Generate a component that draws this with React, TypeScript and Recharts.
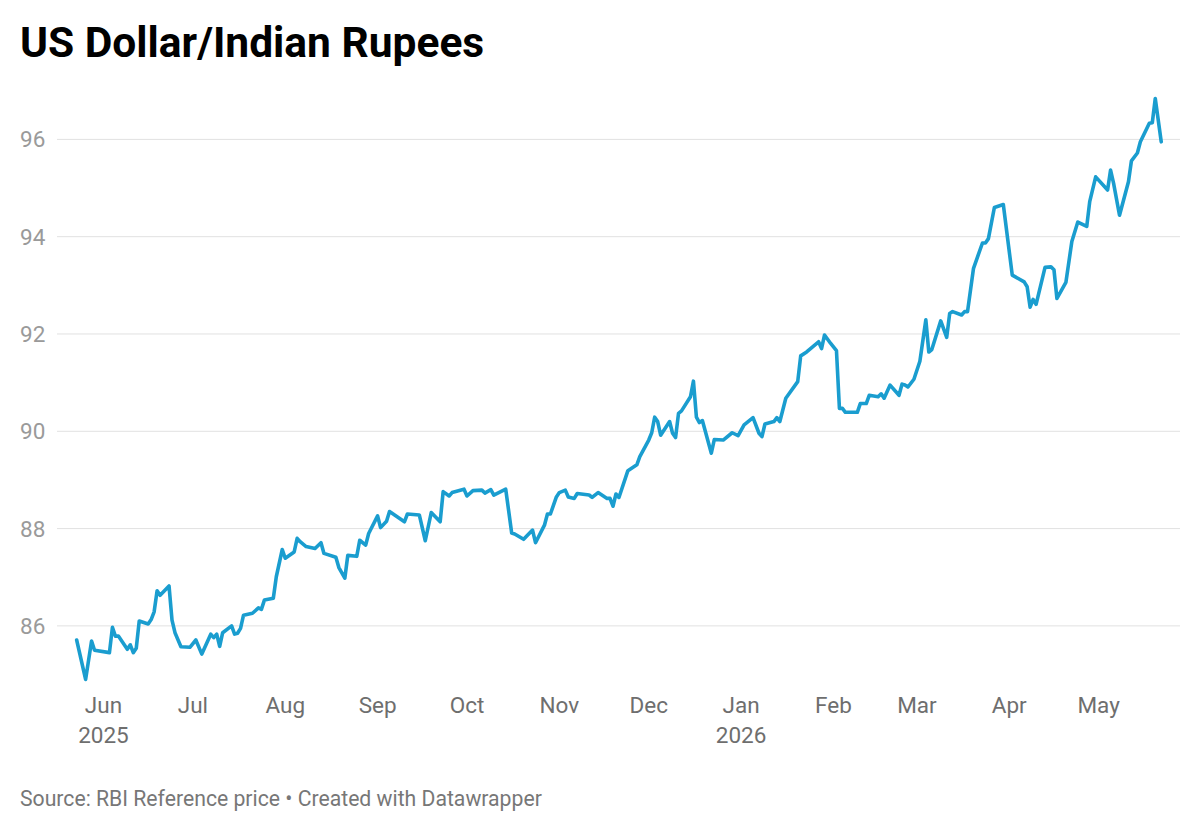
import React from "react";
import { LineChart, Line, XAxis, YAxis, ReferenceLine } from "recharts";

const DATES = [
  "2025-05-23","2025-05-26","2025-05-28","2025-05-29",
  "2025-06-03","2025-06-04","2025-06-05","2025-06-06","2025-06-09","2025-06-10","2025-06-11","2025-06-12","2025-06-13","2025-06-16","2025-06-17","2025-06-18","2025-06-19","2025-06-20","2025-06-23","2025-06-24","2025-06-25","2025-06-27","2025-06-30",
  "2025-07-02","2025-07-04","2025-07-07","2025-07-08","2025-07-09","2025-07-10","2025-07-11","2025-07-14","2025-07-15","2025-07-16","2025-07-17","2025-07-18","2025-07-21","2025-07-23","2025-07-24","2025-07-25","2025-07-28","2025-07-29","2025-07-31",
  "2025-08-01","2025-08-04","2025-08-05","2025-08-06","2025-08-08","2025-08-11","2025-08-13","2025-08-14","2025-08-18","2025-08-19","2025-08-21","2025-08-22","2025-08-25","2025-08-26","2025-08-28","2025-08-29",
  "2025-09-01","2025-09-02","2025-09-04","2025-09-05","2025-09-10","2025-09-11","2025-09-15","2025-09-17","2025-09-19","2025-09-22","2025-09-23","2025-09-25","2025-09-26","2025-09-30",
  "2025-10-01","2025-10-03","2025-10-06","2025-10-07","2025-10-09","2025-10-10","2025-10-14","2025-10-16","2025-10-17","2025-10-20","2025-10-23","2025-10-24","2025-10-27","2025-10-28","2025-10-29","2025-10-31",
  "2025-11-01","2025-11-03","2025-11-04","2025-11-06","2025-11-07","2025-11-11","2025-11-12","2025-11-14","2025-11-17","2025-11-18","2025-11-19","2025-11-20","2025-11-21","2025-11-24","2025-11-27","2025-11-28",
  "2025-12-01","2025-12-02","2025-12-03","2025-12-04","2025-12-05","2025-12-08","2025-12-09","2025-12-10","2025-12-11","2025-12-12","2025-12-15","2025-12-16","2025-12-17","2025-12-18","2025-12-19","2025-12-22","2025-12-23","2025-12-26","2025-12-29","2025-12-31",
  "2026-01-02","2026-01-05","2026-01-07","2026-01-08","2026-01-09","2026-01-12","2026-01-13","2026-01-14","2026-01-16","2026-01-20","2026-01-21","2026-01-23","2026-01-27","2026-01-28","2026-01-29","2026-01-31",
  "2026-02-02","2026-02-03","2026-02-04","2026-02-05","2026-02-09","2026-02-10","2026-02-12","2026-02-13","2026-02-16","2026-02-17","2026-02-18","2026-02-20","2026-02-23","2026-02-24","2026-02-25","2026-02-26","2026-02-28",
  "2026-03-02","2026-03-04","2026-03-05","2026-03-06","2026-03-09","2026-03-11","2026-03-12","2026-03-13","2026-03-16","2026-03-17","2026-03-18","2026-03-20","2026-03-23","2026-03-24","2026-03-25","2026-03-27","2026-03-30",
  "2026-04-02","2026-04-06","2026-04-07","2026-04-08","2026-04-09","2026-04-10","2026-04-13","2026-04-15","2026-04-16","2026-04-17","2026-04-20","2026-04-22","2026-04-24","2026-04-27","2026-04-28","2026-04-30",
  "2026-05-04","2026-05-05","2026-05-06","2026-05-08","2026-05-11","2026-05-12","2026-05-14","2026-05-15","2026-05-18","2026-05-19","2026-05-20","2026-05-22",
];

const RATES = [
  85.71, 84.90, 85.69, 85.50,
  85.45, 85.97, 85.79, 85.79, 85.52, 85.61, 85.45, 85.54, 86.10, 86.04, 86.13, 86.29, 86.72, 86.63, 86.82, 86.12, 85.86, 85.57, 85.56,
  85.71, 85.42, 85.83, 85.76, 85.83, 85.58, 85.86, 86.00, 85.83, 85.85, 85.95, 86.22, 86.26, 86.37, 86.34, 86.53, 86.57, 87.01, 87.57,
  87.39, 87.52, 87.80, 87.73, 87.63, 87.59, 87.71, 87.49, 87.41, 87.20, 86.98, 87.45, 87.43, 87.76, 87.66, 87.90,
  88.26, 88.02, 88.15, 88.35, 88.14, 88.30, 88.28, 87.75, 88.33, 88.14, 88.76, 88.67, 88.74, 88.81,
  88.67, 88.78, 88.79, 88.73, 88.80, 88.69, 88.81, 87.91, 87.89, 87.78, 87.97, 87.71, 88.07, 88.30, 88.30, 88.65,
  88.74, 88.79, 88.65, 88.62, 88.72, 88.69, 88.64, 88.74, 88.62, 88.62, 88.46, 88.71, 88.64, 89.19, 89.31, 89.48,
  89.82, 89.97, 90.29, 90.20, 89.92, 90.20, 89.96, 89.87, 90.37, 90.42, 90.71, 91.03, 90.29, 90.18, 90.22, 89.55, 89.83, 89.82, 89.97, 89.91,
  90.13, 90.28, 89.96, 89.89, 90.15, 90.20, 90.28, 90.20, 90.68, 91.02, 91.55, 91.63, 91.84, 91.70, 91.98, 91.81,
  91.66, 90.47, 90.47, 90.39, 90.39, 90.57, 90.57, 90.74, 90.71, 90.77, 90.68, 90.95, 90.74, 90.97, 90.95, 90.91, 91.07,
  91.44, 92.29, 91.63, 91.68, 92.27, 91.93, 92.42, 92.46, 92.39, 92.46, 92.46, 93.35, 93.87, 93.87, 93.96, 94.60, 94.66,
  93.21, 93.07, 92.97, 92.55, 92.71, 92.61, 93.37, 93.38, 93.32, 92.73, 93.06, 93.90, 94.30, 94.21, 94.72, 95.23,
  94.96, 95.37, 95.10, 94.44, 95.13, 95.56, 95.72, 95.95, 96.33, 96.34, 96.84, 95.95,
];

const MONTH_TICKS = [
  "2025-06-01","2025-07-01","2025-08-01","2025-09-01","2025-10-01","2025-11-01",
  "2025-12-01","2026-01-01","2026-02-01","2026-03-01","2026-04-01","2026-05-01",
];
const MONTH_LABELS = ["Jun","Jul","Aug","Sep","Oct","Nov","Dec","Jan","Feb","Mar","Apr","May"];
const YEAR_LABELS = ["2025","","","","","","","2026","","","",""];
const Y_TICKS = [86, 88, 90, 92, 94, 96];

const TITLE = "US Dollar/Indian Rupees";
const FOOTER = "Source: RBI Reference price • Created with Datawrapper";

const toTs = (s: string) => Date.parse(s + "T00:00:00Z");
const DAY = 86400000;

const data = DATES.map((d, i) => ({ t: toTs(d), v: RATES[i] }));
const xTicks = MONTH_TICKS.map(toTs);
const jun1 = toTs(MONTH_TICKS[0]);
const xDomain = [jun1 - 15.6 * DAY, jun1 + 361.3 * DAY];

const FONT = "Roboto, 'Noto Sans', sans-serif";

const XTick = (props: any) => {
  const { x, payload } = props;
  const idx = xTicks.indexOf(payload.value);
  const year = idx >= 0 ? YEAR_LABELS[idx] : "";
  return (
    <g>
      <text x={x} y={713} textAnchor="middle" fill="#6e6e6e" fontSize={22.5} fontFamily={FONT}>
        {idx >= 0 ? MONTH_LABELS[idx] : ""}
      </text>
      {year ? (
        <text x={x} y={743} textAnchor="middle" fill="#6e6e6e" fontSize={22.5} fontFamily={FONT}>
          {year}
        </text>
      ) : null}
    </g>
  );
};

const YTick = (props: any) => {
  const { y, payload } = props;
  return (
    <text x={20} y={y + 8} textAnchor="start" fill="#9a9a9a" fontSize={22.5} fontFamily={FONT}>
      {payload.value}
    </text>
  );
};

export default function App() {
  return (
    <div style={{ position: "absolute", left: 0, top: 0, width: 1200, height: 830, background: "#fff" }}>
      <LineChart width={1200} height={830} data={data} margin={{ top: 81, right: 20, bottom: 76, left: 0 }}>
        <XAxis
          dataKey="t"
          type="number"
          domain={xDomain}
          ticks={xTicks}
          allowDataOverflow
          axisLine={false}
          tickLine={false}
          height={60}
          tick={<XTick />}
          interval={0}
        />
        <YAxis
          type="number"
          domain={[84.6, 97.2]}
          ticks={Y_TICKS}
          allowDataOverflow
          axisLine={false}
          tickLine={false}
          width={57}
          tick={<YTick />}
          interval={0}
        />
        {Y_TICKS.map((v) => (
          <ReferenceLine key={v} y={v} stroke="#e1e1e1" strokeWidth={1} ifOverflow="extendDomain" />
        ))}
        <Line
          type="linear"
          dataKey="v"
          stroke="#1a9dcf"
          strokeWidth={3.6}
          strokeLinejoin="round"
          strokeLinecap="round"
          dot={false}
          activeDot={false}
          isAnimationActive={false}
        />
      </LineChart>
      <svg width={1200} height={830} style={{ position: "absolute", left: 0, top: 0, pointerEvents: "none" }}>
        <text x={20} y={57} fill="#000" fontSize={42.5} fontWeight={700} fontFamily={FONT}>
          {TITLE}
        </text>
        <text x={20} y={806} fill="#777" fontSize={21.2} fontFamily={FONT}>
          {FOOTER}
        </text>
      </svg>
    </div>
  );
}
